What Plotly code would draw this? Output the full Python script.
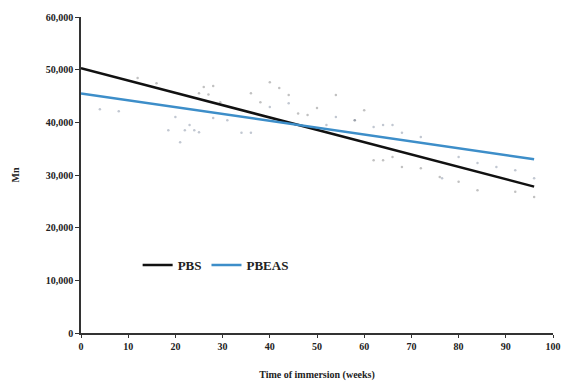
import plotly.graph_objects as go

# Scatter data (weeks, Mn)
pbs_x = [12, 16, 25, 26, 27, 28, 29.5, 36, 38, 40, 42, 44, 46, 48, 50, 54, 58, 60,
         62, 64, 66, 68, 72, 76, 80, 84, 92, 96]
pbs_y = [48400, 47400, 45500, 46700, 45300, 46900, 43800, 45500, 43800, 47600, 46500, 45200,
         41700, 41400, 42700, 45200, 40400, 42300, 32800, 32800, 33400, 31500, 31300, 29600,
         28700, 27100, 26800, 25800]
pbeas_x = [4, 8, 18.5, 20, 21, 22, 23, 24, 25, 28, 31, 34, 36, 40, 44, 52, 54, 58,
           62, 64, 66, 68, 72, 76.5, 80, 84, 88, 92, 96]
pbeas_y = [42500, 42100, 38500, 41000, 36200, 38500, 39500, 38500, 38100, 40800, 40400, 38000,
           38000, 42900, 43600, 39500, 41000, 40400, 39100, 39500, 39500, 38000, 37200, 29400,
           33400, 32300, 31500, 30900, 29400]

# Fitted trend lines
fit_x = [0, 96]
pbs_fit = [50300, 27800]
pbeas_fit = [45500, 33000]

x_ticks = [0, 10, 20, 30, 40, 50, 60, 70, 80, 90, 100]
y_ticks = [0, 10000, 20000, 30000, 40000, 50000, 60000]

font_family = "Liberation Serif, Times New Roman, serif"

fig = go.Figure()
fig.add_trace(go.Scatter(x=pbs_x, y=pbs_y, mode="markers", showlegend=False,
                         marker=dict(size=2.5, color="rgba(100,100,100,0.4)")))
fig.add_trace(go.Scatter(x=pbeas_x, y=pbeas_y, mode="markers", showlegend=False,
                         marker=dict(size=2.5, color="rgba(100,115,140,0.4)")))
fig.add_trace(go.Scatter(x=fit_x, y=pbs_fit, mode="lines", name="PBS",
                         line=dict(color="#111111", width=2.5)))
fig.add_trace(go.Scatter(x=fit_x, y=pbeas_fit, mode="lines", name="PBEAS",
                         line=dict(color="#3d8ec9", width=2.5)))

fig.update_layout(
    width=566, height=381,
    margin=dict(l=81, r=13, t=17, b=48),
    paper_bgcolor="white", plot_bgcolor="white",
    font=dict(family=font_family, size=10, color="#222"),
    legend=dict(orientation="h", x=0.12, y=0.215, xanchor="left", yanchor="middle",
                bgcolor="rgba(0,0,0,0)", font=dict(size=13, family=font_family, weight="bold"),
                itemwidth=30, tracegroupgap=0),
    xaxis=dict(range=[0, 100], tickvals=x_ticks, showgrid=False, zeroline=False,
               showline=True, linecolor="#333", linewidth=1.5, ticks="outside",
               ticklen=3, tickcolor="#333", automargin=False,
               tickfont=dict(size=10, family=font_family, weight="bold"),
               title=dict(text="<b>Time of immersion (weeks)</b>", font=dict(size=10), standoff=24)),
    yaxis=dict(range=[0, 60000], tickvals=y_ticks, tickformat=",", showgrid=False,
               zeroline=False, showline=True, linecolor="#333", linewidth=1.5,
               ticks="outside", ticklen=4, tickcolor="#333", automargin=False,
               tickfont=dict(size=10, family=font_family, weight="bold"),
               title=dict(text="<b>Mn</b>", font=dict(size=10), standoff=24)),
)

fig.write_html("out.html")
